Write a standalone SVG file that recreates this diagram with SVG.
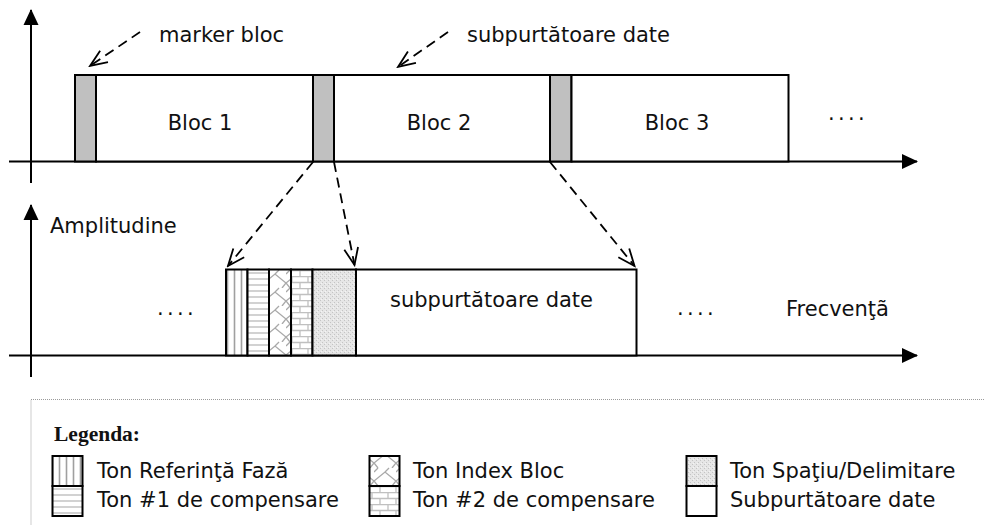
<svg xmlns="http://www.w3.org/2000/svg" width="984" height="525" viewBox="0 0 984 525">
<style>
.t{font-family:"DejaVu Sans","Verdana",sans-serif;font-size:21px;fill:#111}
.ax{stroke:#000;stroke-width:2;fill:none}
.box{stroke:#000;stroke-width:2}
.mk{fill:#c0c0c0;stroke:#000;stroke-width:2}
.dash{stroke:#000;stroke-width:1.8;stroke-dasharray:10,6;fill:none;marker-end:url(#open)}
.dots{font-family:"DejaVu Sans",sans-serif;font-size:21px;letter-spacing:3.3px;fill:#111}
</style>
<defs>
<marker id="tri" markerUnits="userSpaceOnUse" markerWidth="16" markerHeight="16" viewBox="0 0 16 16" refX="15" refY="8" orient="auto">
<path d="M0,0.5 L16,8 L0,15.5 Z" fill="#000"/>
</marker>
<marker id="open" markerUnits="userSpaceOnUse" markerWidth="20" markerHeight="18" viewBox="0 0 20 18" refX="18" refY="9" orient="auto">
<path d="M1,2 L18,9 L1,16" fill="none" stroke="#000" stroke-width="1.8"/>
</marker>
<pattern id="vstripe" patternUnits="userSpaceOnUse" width="7" height="10">
<rect width="7" height="10" fill="#fff"/>
<line x1="3.5" y1="0" x2="3.5" y2="10" stroke="#a0a0a0" stroke-width="1.6"/>
</pattern>
<pattern id="hline" patternUnits="userSpaceOnUse" width="10" height="6">
<rect width="10" height="6" fill="#fff"/>
<line x1="0" y1="3" x2="10" y2="3" stroke="#c4c4c4" stroke-width="1.5"/>
</pattern>
<pattern id="weave" patternUnits="userSpaceOnUse" width="22" height="18">
<rect width="22" height="18" fill="#fff"/>
<path d="M0,13 L11,4 L22,13 M11,4 L15,0 M0,4 L4,0 M11,22 L15,18 M18,18 L22,13 M4,18 L0,13" stroke="#a8a8a8" stroke-width="1.3" fill="none"/>
</pattern>
<pattern id="brick" patternUnits="userSpaceOnUse" width="16" height="12">
<rect width="16" height="12" fill="#fff"/>
<path d="M0,0.5 H16 M0,6.5 H16 M4,0 V6 M12,6 V12" stroke="#c0c0c0" stroke-width="1.3" fill="none"/>
</pattern>
<pattern id="stipple" patternUnits="userSpaceOnUse" width="4" height="4">
<rect width="4" height="4" fill="#e6e6e6"/>
<rect x="0" y="0" width="1" height="1" fill="#c4c4c4"/>
<rect x="2" y="2" width="1" height="1" fill="#c4c4c4"/>
<rect x="1" y="3" width="1" height="1" fill="#f4f4f4"/>
</pattern>
</defs>

<g id="axes">
<line class="ax" x1="31" y1="183" x2="31" y2="10" marker-end="url(#tri)"/>
<line class="ax" x1="9" y1="161.5" x2="917" y2="161.5" marker-end="url(#tri)"/>
<line class="ax" x1="31" y1="377" x2="31" y2="205" marker-end="url(#tri)"/>
<line class="ax" x1="9" y1="355.5" x2="917" y2="355.5" marker-end="url(#tri)"/>
</g>

<g id="marker1"><rect class="mk" x="75" y="75" width="21" height="86.5"/></g>
<g id="bloc1"><rect class="box" x="96" y="75" width="217" height="86.5" fill="#fff"/><text class="t" x="200" y="130" text-anchor="middle">Bloc 1</text></g>
<g id="marker2"><rect class="mk" x="313" y="75" width="21" height="86.5"/></g>
<g id="bloc2"><rect class="box" x="334" y="75" width="216" height="86.5" fill="#fff"/><text class="t" x="439" y="130" text-anchor="middle">Bloc 2</text></g>
<g id="marker3"><rect class="mk" x="550" y="75" width="21.5" height="86.5"/></g>
<g id="bloc3"><rect class="box" x="571.5" y="75" width="217" height="86.5" fill="#fff"/><text class="t" x="677" y="130" text-anchor="middle">Bloc 3</text></g>
<g id="dots-top"><text class="dots" x="828" y="120">....</text></g>

<g id="label-marker"><text class="t" x="159" y="42">marker bloc</text></g>
<g id="label-subp"><text class="t" x="467" y="42">subpurtătoare date</text></g>

<g id="spectrum">
<rect class="box" x="226" y="269.5" width="21.5" height="86" fill="url(#vstripe)"/>
<rect class="box" x="247.5" y="269.5" width="21.5" height="86" fill="url(#hline)"/>
<rect class="box" x="269" y="269.5" width="22" height="86" fill="url(#weave)"/>
<rect class="box" x="291" y="269.5" width="21.5" height="86" fill="url(#brick)"/>
<rect class="box" x="312.5" y="269.5" width="43.5" height="86" fill="url(#stipple)"/>
<rect class="box" x="356" y="269.5" width="280.5" height="86" fill="#fff"/>
<text class="t" x="390" y="307">subpurtătoare date</text>
</g>
<g id="dots-low1"><text class="dots" x="157" y="315">....</text></g>
<g id="dots-low2"><text class="dots" x="677" y="315">....</text></g>
<g id="label-amp"><text class="t" x="50" y="233">Amplitudine</text></g>
<g id="label-freq"><text class="t" x="786" y="316">Frecvenţã</text></g>

<g id="connectors">
<line class="dash" x1="140" y1="32" x2="90" y2="66"/>
<line class="dash" x1="448" y1="32" x2="398" y2="67"/>
<line class="dash" x1="313" y1="162" x2="228" y2="266"/>
<line class="dash" x1="334" y1="162" x2="354.5" y2="265"/>
<line class="dash" x1="550" y1="162" x2="634.5" y2="266"/>
</g>

<g id="legend">
<rect x="31" y="399.5" width="1000" height="200" fill="none" stroke="#9a9a9a" stroke-width="1" stroke-dasharray="1,1"/>
<text x="54" y="441" font-family="Liberation Serif,Times New Roman,serif" font-weight="bold" font-size="21.5" fill="#111">Legenda:</text>
<rect class="box" x="52.5" y="456" width="30" height="30" fill="url(#vstripe)"/>
<rect class="box" x="52.5" y="486" width="30" height="30" fill="url(#hline)"/>
<text class="t" x="97" y="478">Ton Referinţă Fază</text>
<text class="t" x="97" y="507">Ton #1 de compensare</text>
<rect class="box" x="369.5" y="456" width="30" height="30" fill="url(#weave)"/>
<rect class="box" x="369.5" y="486" width="30" height="30" fill="url(#brick)"/>
<text class="t" x="413" y="478">Ton Index Bloc</text>
<text class="t" x="413" y="507">Ton #2 de compensare</text>
<rect class="box" x="686.5" y="456" width="30" height="30" fill="url(#stipple)"/>
<rect class="box" x="686.5" y="486" width="30" height="30" fill="#fff"/>
<text class="t" x="730" y="478">Ton Spaţiu/Delimitare</text>
<text class="t" x="730" y="507">Subpurtătoare date</text>
</g>
</svg>
